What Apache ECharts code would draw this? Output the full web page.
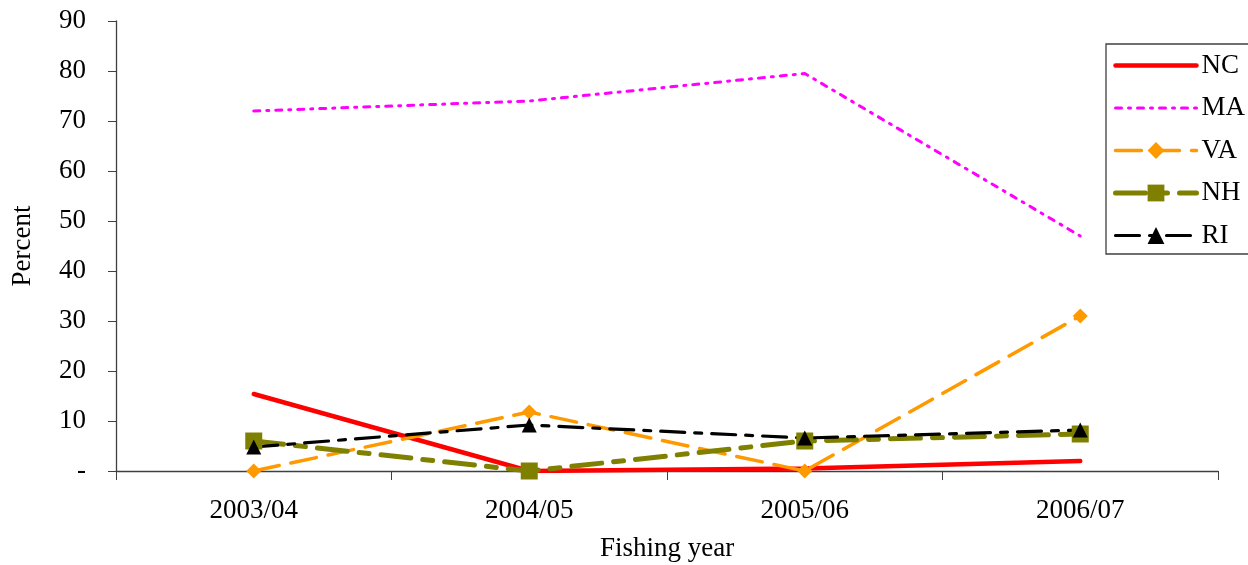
<!DOCTYPE html>
<html>
<head>
<meta charset="utf-8">
<script src="https://cdn.jsdelivr.net/npm/echarts@6/dist/echarts.min.js"></script>
<style>html,body{margin:0;padding:0;background:#fff;}#c{width:1248px;height:565px;}</style>
</head>
<body>
<div id="c"></div>
<script>
const categories = ['2003/04', '2004/05', '2005/06', '2006/07'];
const yTicks = [0, 10, 20, 30, 40, 50, 60, 70, 80, 90];
const NC = [15.4, 0, 0.5, 2];
const MA = [72, 74, 79.5, 47];
const VA = [0, 11.8, 0, 31];
const NH = [6, 0, 6, 7.4];
const RI = [4.8, 9.2, 6.6, 8.2];

const font = 'Liberation Serif';
const FS = 27;
const chart = echarts.init(document.getElementById('c'), null, {renderer: 'canvas'});
const styles = {
  NC: {color: '#ff0000', width: 4.5, dash: 'solid'},
  MA: {color: '#ff00ff', width: 3, dash: [6, 7, 2, 7]},
  VA: {color: '#ff9900', width: 3.5, dash: [26, 12], symbol: 'diamond', size: 15},
  NH: {color: '#808000', width: 5, dash: [30, 12, 10, 12], symbol: 'rect', size: 17},
  RI: {color: '#000000', width: 3.2, dash: [24, 10, 7, 10], symbol: 'triangle', size: 15}
};
function s(name, data) {
  const st = styles[name];
  return {
    name, type: 'line', data,
    symbol: st.symbol || 'none', symbolSize: st.size || 0, showSymbol: !!st.symbol,
    itemStyle: {color: st.color, borderWidth: 0},
    lineStyle: {color: st.color, width: st.width, type: st.dash, cap: 'round'},
    emphasis: {disabled: true}, animation: false, z: 2
  };
}
const legendData = ['NC', 'MA', 'VA', 'NH', 'RI'].map(n => ({
  name: n,
  lineStyle: {width: styles[n].width, type: styles[n].dash, color: styles[n].color},
  itemStyle: styles[n].symbol ? {color: styles[n].color} : {color: 'rgba(0,0,0,0)', opacity: 0}
}));
chart.setOption({
  animation: false,
  grid: {left: 116, right: 30, top: 21, bottom: 94, containLabel: false, outerBoundsMode: 'none'},
  xAxis: {
    type: 'category', data: categories, boundaryGap: true,
    name: 'Fishing year', nameLocation: 'middle', nameGap: 64,
    nameTextStyle: {fontFamily: font, fontSize: FS, color: '#000'},
    axisLine: {lineStyle: {color: '#404040', width: 1.3}},
    axisTick: {show: true, inside: false, length: 9, alignWithLabel: false, lineStyle: {color: '#404040'}},
    axisLabel: {fontFamily: font, fontSize: FS, color: '#000', margin: 26},
    splitLine: {show: false}
  },
  yAxis: {
    type: 'value', min: 0, max: 90, interval: 10,
    name: 'Percent', nameLocation: 'middle', nameGap: 80, nameRotate: 90,
    nameTextStyle: {fontFamily: font, fontSize: FS, color: '#000'},
    axisLine: {show: true, lineStyle: {color: '#404040', width: 1.3}},
    axisTick: {show: true, inside: false, length: 8, lineStyle: {color: '#404040'}},
    axisLabel: {fontFamily: font, fontSize: FS, color: '#000', margin: 30,
      formatter: v => yTicks.includes(v) ? (v === 0 ? '-' : String(v)) : ''},
    splitLine: {show: false}
  },
  legend: {
    orient: 'vertical', left: 1106, top: 44,
    backgroundColor: '#fff', borderColor: '#404040', borderWidth: 1.3,
    padding: [8, 12, 5, 7], itemGap: 15.5, itemWidth: 81, itemHeight: 21,
    textStyle: {fontFamily: font, fontSize: FS, color: '#000', padding: [0, 0, 0, 0]},
    data: legendData
  },
  series: ['NC', 'MA', 'VA', 'NH', 'RI'].map((n, i) => s(n, [NC, MA, VA, NH, RI][i]))
});
</script>
</body>
</html>
